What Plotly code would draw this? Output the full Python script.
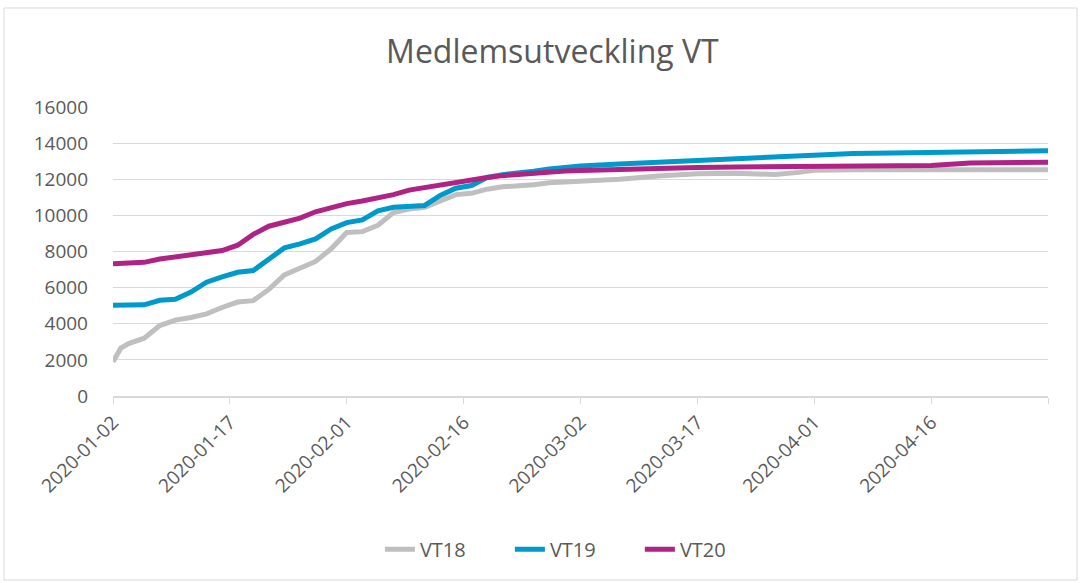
"""Medlemsutveckling VT - member growth per spring term."""

import plotly.graph_objects as go

# Dates shared by all three series (2020 calendar used for alignment)
dates = [
    "2020-01-02", "2020-01-03", "2020-01-04", "2020-01-06", "2020-01-08",
    "2020-01-10", "2020-01-12", "2020-01-14", "2020-01-16", "2020-01-18",
    "2020-01-20", "2020-01-22", "2020-01-24", "2020-01-26", "2020-01-28",
    "2020-01-30", "2020-02-01", "2020-02-03", "2020-02-05", "2020-02-07",
    "2020-02-09", "2020-02-11", "2020-02-13", "2020-02-15", "2020-02-17",
    "2020-02-19", "2020-02-21", "2020-02-23", "2020-02-25", "2020-02-27",
    "2020-02-29", "2020-03-02", "2020-03-07", "2020-03-12", "2020-03-17",
    "2020-03-22", "2020-03-27", "2020-03-30", "2020-04-01", "2020-04-06",
    "2020-04-11", "2020-04-16", "2020-04-21", "2020-04-26", "2020-05-01",
]

vt18 = [
    1900, 2650, 2900, 3200, 3900, 4200, 4350, 4550, 4900, 5200,
    5280, 5900, 6700, 7100, 7450, 8150, 9050, 9100, 9450, 10150,
    10350, 10450, 10800, 11150, 11220, 11450, 11580, 11620, 11700, 11800,
    11840, 11870, 12000, 12180, 12300, 12330, 12260, 12380, 12500, 12520,
    12530, 12530, 12530, 12530, 12530,
]

vt19 = [
    5020, 5020, 5030, 5050, 5300, 5350, 5750, 6300, 6600, 6850,
    6950, 7600, 8200, 8420, 8700, 9250, 9600, 9750, 10250, 10450,
    10500, 10550, 11100, 11500, 11650, 12100, 12250, 12330, 12450, 12570,
    12650, 12730, 12850, 12950, 13050, 13150, 13250, 13330, 13380, 13420,
    13450, 13480, 13500, 13540, 13580,
]

vt20 = [
    7320, 7330, 7350, 7400, 7580, 7680, 7800, 7920, 8050, 8350,
    8950, 9400, 9650, 9850, 10200, 10450, 10650, 10800, 10950, 11150,
    11400, 11550, 11650, 11800, 11950, 12100, 12200, 12270, 12350, 12420,
    12450, 12480, 12550, 12600, 12650, 12680, 12700, 12710, 12720, 12740,
    12750, 12760, 12900, 12920, 12940,
]

# x-axis ticks every 15 days; the final one (end of axis) carries no label
tick_dates = [
    "2020-01-02", "2020-01-17", "2020-02-01", "2020-02-16", "2020-03-02",
    "2020-03-17", "2020-04-01", "2020-04-16", "2020-05-01",
]
tick_labels = tick_dates[:-1] + [""]

SERIES = [("VT18", vt18, "#bfbfbf"), ("VT19", vt19, "#0099cc"), ("VT20", vt20, "#ae2383")]
FONT = "Open Sans"
TEXT = "#595959"

fig = go.Figure()
for name, vals, color in SERIES:
    fig.add_trace(
        go.Scatter(
            x=dates,
            y=vals,
            name=name,
            mode="lines",
            line=dict(color=color, width=5),
        )
    )

fig.update_layout(
    width=1081,
    height=583,
    plot_bgcolor="white",
    paper_bgcolor="white",
    margin=dict(l=113, r=33, t=107, b=187),
    font=dict(family=FONT, color=TEXT),
    title=dict(
        text="Medlemsutveckling VT",
        x=0.511,
        xanchor="center",
        y=0.911,
        yanchor="middle",
        font=dict(family=FONT, size=32, color=TEXT),
    ),
    legend=dict(
        orientation="h",
        x=0.494,
        xanchor="center",
        y=-0.53,
        yanchor="middle",
        entrywidth=85,
        font=dict(size=20, color=TEXT),
    ),
    shapes=[
        dict(
            type="rect",
            xref="paper",
            yref="paper",
            x0=-0.1166,
            x1=1.031,
            y0=-0.6367,
            y1=1.3426,
            line=dict(color="#d9d9d9", width=1),
            layer="below",
        )
    ],
)

fig.update_yaxes(
    range=[0, 16000],
    dtick=2000,
    tickformat="d",
    gridcolor="#d9d9d9",
    gridwidth=1,
    zeroline=False,
    showline=False,
    automargin=False,
    tickfont=dict(size=19, color=TEXT),
    ticklabelstandoff=24,
)

fig.update_xaxes(
    type="date",
    range=["2020-01-02", "2020-05-01"],
    tickmode="array",
    tickvals=tick_dates,
    ticktext=tick_labels,
    tickangle=-45,
    showgrid=False,
    showline=True,
    linecolor="#d9d9d9",
    linewidth=1.5,
    ticks="outside",
    tickcolor="#d9d9d9",
    ticklen=6,
    automargin=False,
    tickfont=dict(size=19, color=TEXT),
)

# drop the browser's default body margin so the chart sits at the page origin
fig.write_html(
    "out.html",
    config={"displayModeBar": False},
    post_script="document.body.style.margin = '0';",
)
